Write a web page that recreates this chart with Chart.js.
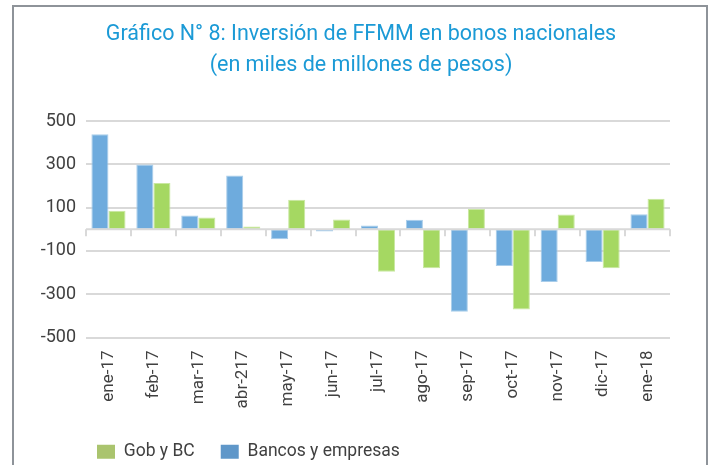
<!DOCTYPE html>
<html>
<head>
<meta charset="utf-8">
<script src="https://cdn.jsdelivr.net/npm/chart.js@4.4.0/dist/chart.umd.min.js"></script>
<style>
html,body{margin:0;padding:0;background:#fff;width:711px;height:465px;overflow:hidden;}
#frame{position:absolute;left:12px;top:5px;width:696px;height:480px;border:2px solid #8e9399;box-sizing:border-box;}
#wrap{position:absolute;left:0;top:0;width:711px;height:465px;}
</style>
</head>
<body>
<div id="frame"></div>
<div id="wrap"><canvas id="c" width="711" height="465"></canvas></div>
<script>
const categories = ["ene-17","feb-17","mar-17","abr-217","may-17","jun-17","jul-17","ago-17","sep-17","oct-17","nov-17","dic-17","ene-18"];
const bancosEmpresas = [440, 300, 64, 249, -46, -10, 18, 44, -381, -169, -243, -151, 70];
const gobBC = [86, 214, 55, 13, 137, 45, -196, -180, 95, -370, 69, -180, 141];
const yTicks = [-500, -300, -100, 100, 300, 500];
const titleLines = ["Gráfico N° 8: Inversión de FFMM en bonos nacionales", "(en miles de millones de pesos)"];

const FONT = "Roboto, 'Liberation Sans', sans-serif";

const zeroLine = {
  id: 'zeroLine',
  afterDatasetsDraw(chart) {
    const {ctx, chartArea, scales} = chart;
    const y0 = scales.y.getPixelForValue(0);
    ctx.save();
    ctx.strokeStyle = '#d9d9d9';
    ctx.lineWidth = 2;
    ctx.beginPath();
    ctx.moveTo(chartArea.left, y0);
    ctx.lineTo(chartArea.right, y0);
    const n = categories.length;
    const w = (chartArea.right - chartArea.left) / n;
    for (let i = 0; i <= n; i++) {
      const x = Math.round(chartArea.left + i * w);
      ctx.moveTo(x, y0);
      ctx.lineTo(x, y0 + 7);
    }
    ctx.stroke();
    ctx.restore();
  }
};

const layoutShift = {
  id: 'layoutShift',
  afterLayout(chart) {
    if (chart.legend) {
      chart.legend.left = 71;
      chart.legend.top = 417;
    }
    if (chart.titleBlock) {
      chart.titleBlock.left = 52;
      chart.titleBlock.right = 670;
    }
  }
};

new Chart(document.getElementById('c'), {
  type: 'bar',
  data: {
    labels: categories,
    datasets: [
      {label: 'Bancos y empresas', data: bancosEmpresas, backgroundColor: '#6eabdd', borderColor: '#a9cdea', borderWidth: 1, borderSkipped: false, legendColor: '#5f97c9'},
      {label: 'Gob y BC', data: gobBC, backgroundColor: '#a5d862', borderColor: '#c9e8a1', borderWidth: 1, borderSkipped: false, legendColor: '#aac46e'}
    ]
  },
  options: {
    responsive: false,
    animation: false,
    devicePixelRatio: 1,
    layout: {padding: {left: 40, right: 41, top: 0, bottom: 0}},
    datasets: {bar: {categoryPercentage: 0.76, barPercentage: 1.0}},
    plugins: {
      title: {
        display: true,
        text: titleLines,
        color: '#1b9ad6',
        font: {family: FONT, size: 21.5, weight: 'normal', lineHeight: 1.4},
        padding: {top: 20, bottom: 41}
      },
      legend: {
        position: 'bottom',
        align: 'start',
        reverse: true,
        labels: {
          color: '#404040',
          font: {family: FONT, size: 17.5},
          boxWidth: 18,
          boxHeight: 14,
          padding: 26,
          generateLabels(chart) {
            return chart.data.datasets.map((ds, i) => ({
              text: ds.label,
              fillStyle: ds.legendColor,
              strokeStyle: ds.legendColor,
              lineWidth: 0,
              hidden: false,
              datasetIndex: i,
              fontColor: '#404040'
            }));
          }
        }
      },
      tooltip: {enabled: false}
    },
    scales: {
      x: {
        grid: {display: false},
        border: {display: false},
        ticks: {
          color: '#404040',
          font: {family: FONT, size: 17},
          minRotation: 90,
          maxRotation: 90,
          padding: 5,
          autoSkip: false
        },
        afterFit(scale) { scale.height = 74; }
      },
      y: {
        min: -500,
        max: 500,
        afterBuildTicks(scale) { scale.ticks = yTicks.map(v => ({value: v})); },
        grid: {color: '#d9d9d9', lineWidth: 2, drawTicks: false},
        border: {display: false},
        ticks: {
          color: '#404040',
          font: {family: FONT, size: 18},
          padding: 10
        },
        afterFit(scale) { scale.width = 46; }
      }
    }
  },
  plugins: [zeroLine, layoutShift]
});
</script>
</body>
</html>
